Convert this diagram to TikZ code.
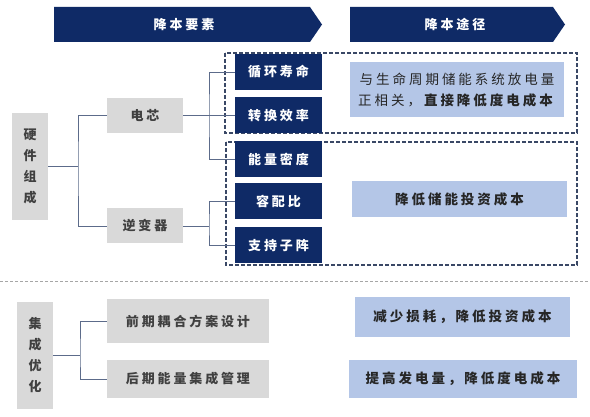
\documentclass[tikz,border=0pt]{standalone}
\usepackage{fontspec}
\newfontfamily\cjk{Noto Sans CJK SC}[LetterSpace=22]
\newfontfamily\cjkv{Noto Sans CJK SC}
\definecolor{navy}{HTML}{0F2A66}
\definecolor{boxgray}{HTML}{D9D9D9}
\definecolor{txtgray}{HTML}{404040}
\definecolor{lblue}{HTML}{B4C6E7}
\definecolor{lineblue}{HTML}{5C6B8A}
\definecolor{dashcol}{HTML}{3A4866}
\tikzset{
  darkbox/.style={fill=navy, text=white, minimum width=87pt, minimum height=36pt, inner sep=0pt, font=\cjk\fontsize{13}{15}\selectfont\bfseries},
  graybox/.style={fill=boxgray, text=txtgray, inner sep=0pt, font=\cjk\fontsize{13}{15}\selectfont\bfseries},
  vgraybox/.style={fill=boxgray, text=txtgray, inner sep=0pt, align=center, minimum width=36pt, minimum height=107pt, font=\cjkv\fontsize{13}{21}\selectfont\bfseries},
  bluebox/.style={fill=lblue, text=black!85, inner sep=0pt, align=center, font=\cjk\fontsize{13.5}{21}\selectfont},
  conn/.style={draw=lineblue, line width=0.9pt},
  dashbox/.style={draw=dashcol, dashed, line width=1.3pt, dash pattern=on 4pt off 2pt},
  headarrow/.style={fill=navy},
}
\begin{document}
\begin{tikzpicture}[x=1pt, y=-1pt]
\useasboundingbox (0,0) rectangle (590,417);
\fill[white] (0,0) rectangle (590,417);
% header arrows
\fill[navy] (54,7) -- (310,7) -- (322,24.5) -- (310,42) -- (54,42) -- cycle;
\fill[navy] (350,7) -- (553,7) -- (565,24.5) -- (553,42) -- (350,42) -- cycle;
\node[text=white, font=\cjk\fontsize{13}{15}\selectfont\bfseries] (h1) at (184,24.5) {降本要素};
\node[text=white, font=\cjk\fontsize{13}{15}\selectfont\bfseries] (h2) at (455,24.5) {降本途径};
% dashed groups
\draw[dashbox] (225,53) rectangle (577,133);
\draw[dashbox] (226,142) rectangle (577,265);
% left
\node[vgraybox] (hw) at (30,166.5) {硬\\件\\组\\成};
\node[graybox, minimum width=76pt, minimum height=35pt] (cell) at (145,115.5) {电芯};
\node[graybox, minimum width=76pt, minimum height=35pt] (inv) at (145,226) {逆变器};
% dark boxes
\node[darkbox] (d1) at (278.5,72) {循环寿命};
\node[darkbox] (d2) at (278.5,115.5) {转换效率};
\node[darkbox] (d3) at (278.5,159) {能量密度};
\node[darkbox] (d4) at (278.5,201.5) {容配比};
\node[darkbox] (d5) at (278.5,245.5) {支持子阵};
% blue boxes
\node[bluebox, minimum width=214pt, minimum height=55pt] (b1) at (457,89.5) {与生命周期储能系统放电量\\正相关，\textbf{直接降低度电成本}};
\node[bluebox, minimum width=215pt, minimum height=36pt, font=\cjk\fontsize{13.5}{21}\selectfont\bfseries] (b2) at (459.5,199) {降低储能投资成本};
% connectors top
\coordinate (j0) at (78,166.5);
\draw[conn] (hw.east) -- (j0);
\draw[conn] (cell.west) -| (j0) |- (inv.west);
\coordinate (j1) at (209,115.5);
\draw[conn] (cell.east) -- (d2.west);
\draw[conn] (d1.west) -| (j1) |- (d3.west);
\coordinate (j2) at (209,226);
\draw[conn] (inv.east) -- (j2);
\draw[conn] (d4.west) -| (j2) |- (d5.west);
% separator
\draw[gray!70, dashed, line width=0.6pt, dash pattern=on 3pt off 2pt] (0,281.5) -- (590,281.5);
% bottom section
\node[vgraybox] (io) at (35,355.5) {集\\成\\优\\化};
\node[graybox, minimum width=162pt, minimum height=44pt] (pre) at (188,321) {前期耦合方案设计};
\node[graybox, minimum width=162pt, minimum height=38pt] (post) at (188,379) {后期能量集成管理};
\coordinate (j3) at (80,355.5);
\draw[conn] (io.east) -- (j3);
\draw[conn] (pre.west) -| (j3) |- (post.west);
\node[bluebox, minimum width=215pt, minimum height=40pt, font=\cjk\fontsize{13.5}{21}\selectfont\bfseries] (r1) at (462.5,317) {减少损耗，降低投资成本};
\node[bluebox, minimum width=228pt, minimum height=38pt, font=\cjk\fontsize{13.5}{21}\selectfont\bfseries] (r2) at (463,379) {提高发电量，降低度电成本};
\end{tikzpicture}
\end{document}
